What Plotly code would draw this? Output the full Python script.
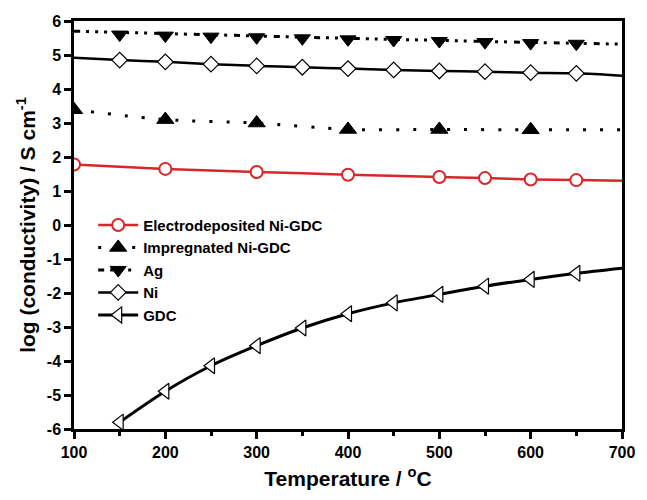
import plotly.graph_objects as go

# Temperature (°C) and log10 conductivity (S/cm) for each electrode material
elec_t = [100, 200, 300, 400, 500, 550, 600, 650]
elec_y = [1.78, 1.65, 1.56, 1.48, 1.41, 1.38, 1.34, 1.32]
elec_end = 1.30            # curve value at 700 °C

imp_t = [100, 200, 300, 400, 500, 600]
imp_y = [3.39, 3.10, 3.00, 2.81, 2.81, 2.80]
imp_end = 2.80

ag_t = [150, 200, 250, 300, 350, 400, 450, 500, 550, 600, 650]
ag_y = [5.60, 5.57, 5.54, 5.52, 5.49, 5.46, 5.44, 5.41, 5.38, 5.35, 5.33]
ag_fit_t = [100, 200, 300, 400, 500, 600, 700]
ag_fit_y = [5.70, 5.63, 5.56, 5.49, 5.43, 5.37, 5.32]

ni_t = [150, 200, 250, 300, 350, 400, 450, 500, 550, 600, 650]
ni_y = [4.85, 4.80, 4.73, 4.68, 4.64, 4.60, 4.56, 4.53, 4.51, 4.48, 4.46]
ni_start, ni_end = 4.92, 4.39

gdc_t = [150, 200, 250, 300, 350, 400, 450, 500, 550, 600, 650]
gdc_y = [-5.80, -4.89, -4.14, -3.55, -3.03, -2.61, -2.29, -2.04, -1.80, -1.60, -1.42]
gdc_end = -1.27

names = ["Electrodeposited Ni-GDC", "Impregnated Ni-GDC", "Ag", "Ni", "GDC"]

x_ticks = [100, 200, 300, 400, 500, 600, 700]
y_ticks = [-6, -5, -4, -3, -2, -1, 0, 1, 2, 3, 4, 5, 6]
y_tick_text = [str(v) for v in y_ticks]   # plain hyphen for negatives

RED = "#d9262b"
BLACK = "#000000"
FONT = "Liberation Sans, Arial, sans-serif"

fig = go.Figure()


def add_series(name, line_x, line_y, mark_x, mark_y, color, dash, width,
               symbol, size, fill, mline):
    fig.add_trace(go.Scatter(
        x=line_x, y=line_y, mode="lines", showlegend=False, hoverinfo="skip",
        line=dict(color=color, width=width, dash=dash, shape="spline", smoothing=0.8),
    ))
    marker = dict(symbol=symbol, size=size, color=fill,
                  line=dict(color=color, width=mline))
    fig.add_trace(go.Scatter(
        x=mark_x, y=mark_y, mode="markers", showlegend=False, marker=marker,
    ))
    # legend entry shows the line style together with the symbol
    fig.add_trace(go.Scatter(
        x=[None], y=[None], mode="lines+markers", name=name, marker=marker,
        line=dict(color=color, width=width, dash=dash),
    ))


DOTS_IMP = "3px,14px"
DOTS_AG = "6px,6px,3px,6px,3px,6px,3px,7px"

add_series(names[2], ag_fit_t, ag_fit_y, ag_t, ag_y, BLACK, DOTS_AG, 3,
           "triangle-down", 14, BLACK, 1)
add_series(names[3], [100] + ni_t + [700], [ni_start] + ni_y + [ni_end], ni_t, ni_y,
           BLACK, "solid", 2.5, "diamond", 12, "white", 1.2)
add_series(names[1], imp_t + [700], imp_y + [imp_end], imp_t, imp_y, BLACK, DOTS_IMP, 3,
           "triangle-up", 15, BLACK, 1)
add_series(names[0], elec_t + [700], elec_y + [elec_end], elec_t, elec_y, RED, "solid", 2.5,
           "circle", 12, "white", 2)
add_series(names[4], gdc_t + [700], gdc_y + [gdc_end], gdc_t, gdc_y, BLACK, "solid", 3,
           "triangle-left", 14, "white", 1.2)

# legend order: electrodeposited, impregnated, Ag, Ni, GDC
order = {n: i for i, n in enumerate(names)}
for t in fig.data:
    if t.name:
        t.legendrank = order[t.name] + 1

fig.update_layout(
    width=647, height=500,
    margin=dict(l=74, r=17, t=21, b=69),
    paper_bgcolor="white", plot_bgcolor="white",
    font=dict(family=FONT, color=BLACK, size=15, weight="bold"),
    showlegend=True,
    legend=dict(x=0.035, y=0.54, xanchor="left", yanchor="top",
                bgcolor="rgba(0,0,0,0)", borderwidth=0,
                font=dict(family=FONT, size=15, weight="bold"),
                tracegroupgap=0, itemwidth=40),
)

axis_common = dict(
    showgrid=False, zeroline=False, showline=True, linecolor=BLACK, linewidth=2.5,
    mirror=True, ticks="outside", tickcolor=BLACK, tickwidth=2.5,
    tickfont=dict(family=FONT, size=16, weight="bold", color=BLACK),
)

fig.update_xaxes(
    range=[100, 700], tickvals=x_ticks, ticklen=7,
    minor=dict(tickvals=[150, 250, 350, 450, 550, 650], ticklen=4, tickwidth=2.5,
               tickcolor=BLACK, ticks="outside"),
    title=dict(text="Temperature / <sup>o</sup>C",
               font=dict(family=FONT, size=21, weight="bold"), standoff=12),
    **axis_common,
)
fig.update_yaxes(
    range=[-6, 6], tickvals=y_ticks, ticktext=y_tick_text, ticklen=7,
    title=dict(text="log (conductivity) / S cm<sup>-1</sup>",
               font=dict(family=FONT, size=21, weight="bold"), standoff=6),
    **axis_common,
)

fig.write_html("out.html")
